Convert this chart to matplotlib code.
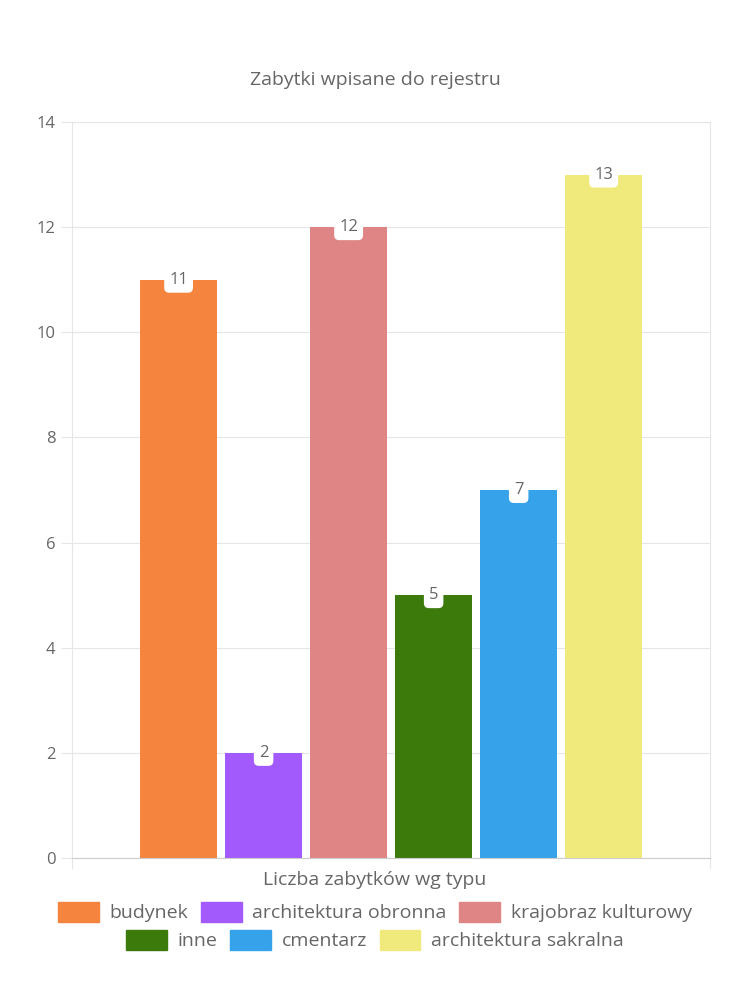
import matplotlib.pyplot as plt
from matplotlib.patches import Patch

plt.rcParams['font.family'] = ['Open Sans', 'DejaVu Sans']

title = 'Zabytki wpisane do rejestru'
category = 'Liczba zabytków wg typu'
series = ['budynek', 'architektura obronna', 'krajobraz kulturowy',
          'inne', 'cmentarz', 'architektura sakralna']
values = [11, 2, 12, 5, 7, 13]
colors = ['#F5843F', '#A25AFC', '#E08585', '#3D7A0C', '#36A2EA', '#F0EA7C']

text_col = '#666666'
grid_col = '#e6e6e6'

fig = plt.figure(figsize=(7.5, 10), dpi=100)
ax = fig.add_axes([0.096, 0.142, 0.851, 0.736])

pitch = 0.1332
width = 0.1207
for i, (name, v, c) in enumerate(zip(series, values, colors)):
    x = (i - 2.5) * pitch
    ax.bar(x, v, width=width, color=c, zorder=2)
    ax.text(x, v, str(v), ha='center', va='center', fontsize=12, color=text_col, zorder=4,
            bbox=dict(boxstyle='round,pad=0.3,rounding_size=0.3', fc='white', ec='none'))

ax.set_xlim(-0.5, 0.5)
ax.set_ylim(0, 14)
ax.set_yticks(range(0, 15, 2))
ax.set_xticks([-0.5, 0.5])
ax.set_xticklabels(['', ''])
ax.tick_params(axis='y', length=8, color=grid_col, labelcolor=text_col, labelsize=12, pad=4)
ax.tick_params(axis='x', length=8, color=grid_col)
ax.grid(axis='y', color=grid_col, linewidth=0.8, zorder=0)
for s in ax.spines.values():
    s.set_color(grid_col)
ax.spines['bottom'].set_color('#cccccc')

fig.text(0.5, 0.92, title, ha='center', va='center', fontsize=14, color=text_col)
fig.text(0.5, 0.12, category, ha='center', va='center', fontsize=14, color=text_col)

handles = [Patch(color=c, label=n) for n, c in zip(series, colors)]
opts = dict(loc='center', ncol=3, frameon=False, fontsize=14, handlelength=2.1,
            handleheight=1.25, columnspacing=0.65, handletextpad=0.55, labelcolor=text_col)
leg1 = fig.legend(handles=handles[:3], bbox_to_anchor=(0.5, 0.088), **opts)
leg2 = fig.legend(handles=handles[3:], bbox_to_anchor=(0.5, 0.060), **opts)

fig.savefig('out.png', dpi=100)
